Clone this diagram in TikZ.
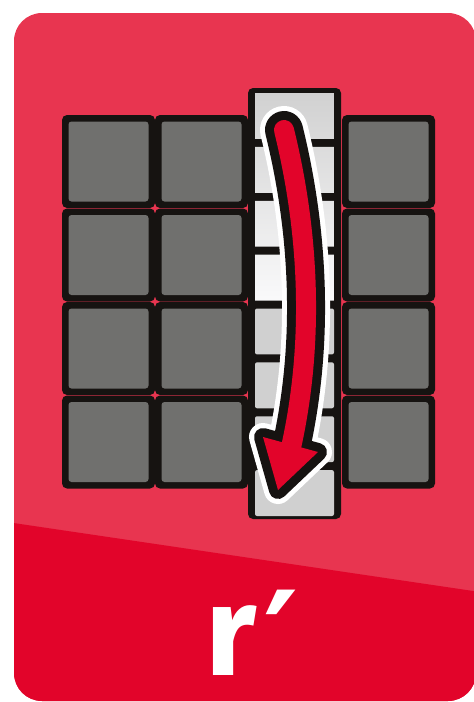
\documentclass[tikz,border=0pt]{standalone}
\usepackage{fontspec}
\newfontfamily\cardfont{Fira Sans}
\newfontfamily\primefont{DejaVu Sans}
\definecolor{cardlight}{RGB}{232,53,80}
\definecolor{carddark}{RGB}{226,4,42}
\definecolor{tileblack}{RGB}{22,19,17}
\definecolor{tilegray}{RGB}{112,112,110}
\definecolor{cellgray}{RGB}{208,208,208}
\definecolor{celllight}{RGB}{250,250,251}
\tikzset{
  tileframe/.style={fill=tileblack, rounded corners=5pt},
  tileface/.style={fill=tilegray, rounded corners=3pt},
  arrowpath/.style={line cap=round, line join=round},
  labeltext/.style={text=white, inner sep=0pt},
}
\begin{document}
\begin{tikzpicture}[x=1pt,y=-1pt]
\useasboundingbox (0,0) rectangle (474,702);
% card
\fill[cardlight, rounded corners=28pt] (14,13) rectangle (476,701);
\begin{scope}
  \clip[rounded corners=28pt] (14,13) rectangle (476,701);
  \fill[carddark] (0,521) -- (480,592) -- (480,710) -- (0,710) -- cycle;
\end{scope}
% tiles
\foreach \x in {62,155,342} {
  \foreach \y in {115,208.5,302,395.5} {
    \fill[tileframe] (\x,\y) rectangle ++(93,93);
    \fill[tileface] (\x+6.5,\y+6.5) rectangle ++(80,80);
  }
}
% middle strip
\fill[tileframe] (248,88) rectangle (341,519);
\begin{scope}
  \clip foreach \k in {0,1,2,3} { (255,{88+53.875*\k+5}) rectangle (334,{88+53.875*(\k+1)-3}) };
  \shade[top color=cellgray, bottom color=celllight] (255,88) rectangle (334,303);
\end{scope}
\foreach \k in {4,5,6,7} {
  \fill[cellgray, rounded corners=2pt] (255,{88+53.875*\k+5}) rectangle (334,{88+53.875*(\k+1)-3});
}
% arrow
\coordinate (s) at (284,130);
\coordinate (e) at (290,452);
\coordinate (hl) at (263,437);
\coordinate (hr) at (318,452);
\coordinate (ht) at (278,490);
\draw[arrowpath, white, line width=48pt] (s) .. controls (305,215) and (318,330) .. (e);
\filldraw[arrowpath, white, line width=28pt] (hl) -- (hr) -- (ht) -- cycle;
\draw[arrowpath, tileblack, line width=38pt] (s) .. controls (305,215) and (318,330) .. (e);
\filldraw[arrowpath, tileblack, line width=18pt] (hl) -- (hr) -- (ht) -- cycle;
\fill[carddark] (hl) -- (hr) -- (ht) -- cycle;
\draw[carddark, line width=20pt, line cap=round] (s) .. controls (305,215) and (318,330) .. (e);
% label
\node[labeltext, anchor=base west, font=\cardfont\bfseries\fontsize{128}{128}\selectfont] (lbl) at (205,675) {r};
\node[labeltext, anchor=base west, font=\primefont\bfseries\fontsize{135}{135}\selectfont] (prm) at (263,688) {′};
\end{tikzpicture}
\end{document}
